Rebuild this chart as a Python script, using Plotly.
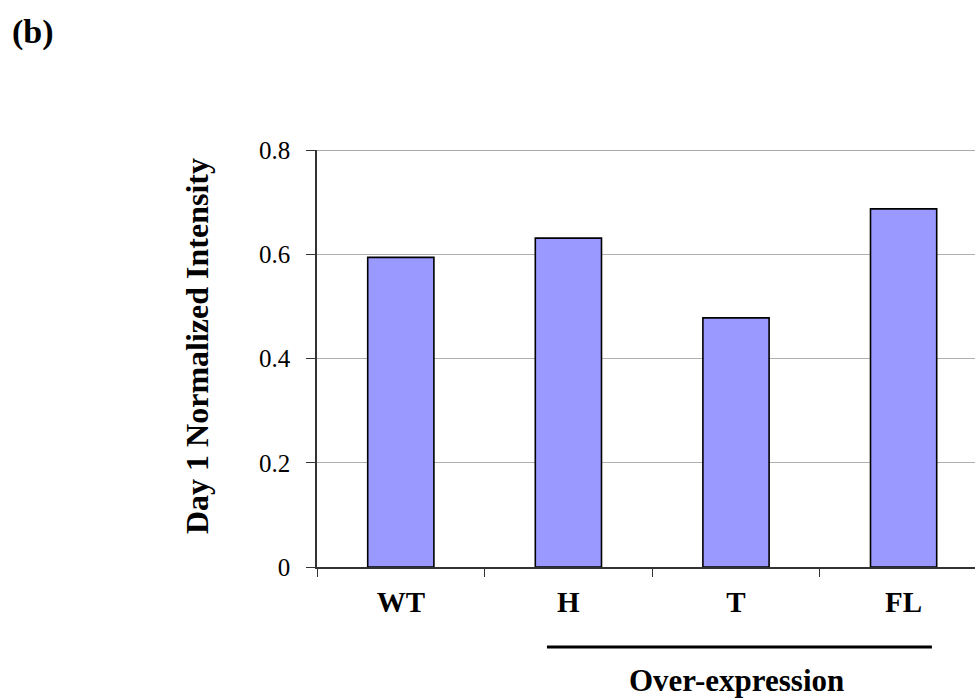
import plotly.graph_objects as go

categories = ["WT", "H", "T", "FL"]
values = [0.594, 0.631, 0.478, 0.687]
y_tick_vals = [0, 0.2, 0.4, 0.6, 0.8]
y_tick_text = ["0", "0.2", "0.4", "0.6", "0.8"]

SERIF = "Liberation Serif, Times New Roman, serif"

fig = go.Figure()
fig.add_trace(go.Bar(
    x=categories, y=values, width=0.395,
    marker=dict(color="#9999FF", line=dict(color="#000000", width=1.6)),
))

fig.update_layout(
    width=975, height=698,
    margin=dict(l=317, r=0, t=150, b=131),
    paper_bgcolor="white", plot_bgcolor="white",
    showlegend=False,
    font=dict(family=SERIF, color="black"),
    xaxis=dict(
        type="category", range=[-0.5, 3.426],
        showline=True, linecolor="#333333", linewidth=1.5,
        ticks="outside", tickson="boundaries", ticklen=8, tickwidth=1.3, tickcolor="#333333",
        tickfont=dict(family=SERIF, size=29, color="black"),
        ticklabelstandoff=8,
        showgrid=False, zeroline=False,
    ),
    yaxis=dict(
        range=[0, 0.8],
        tickvals=y_tick_vals, ticktext=y_tick_text,
        showline=True, linecolor="#333333", linewidth=1.5,
        ticks="outside", ticklen=9, tickwidth=1.3, tickcolor="#333333",
        tickfont=dict(family=SERIF, size=25, color="black"),
        ticklabelstandoff=11,
        showgrid=True, gridcolor="#b0b0b0", gridwidth=1.2,
        zeroline=False,
    ),
)

# y-axis title
fig.add_annotation(xref="paper", yref="paper", x=(197 - 317) / 658, y=(567 - 346) / 417,
                   text="<b>Day 1 Normalized Intensity</b>", textangle=-90, showarrow=False,
                   xanchor="center", yanchor="middle",
                   font=dict(family=SERIF, size=32, color="black"))

# top border line
fig.add_shape(type="line", xref="paper", yref="y", x0=0, x1=1, y0=0.8, y1=0.8,
              line=dict(color="#8c8c8c", width=1.5))

# bold tick labels
fig.update_xaxes(ticktext=[f"<b>{c}</b>" for c in categories], tickvals=categories)

# Over-expression bracket
fig.add_shape(type="line", xref="x", yref="paper", x0=0.872, x1=3.169, y0=-0.192, y1=-0.192,
              line=dict(color="black", width=3))
fig.add_annotation(xref="x", yref="paper", x=2.0, y=(567 - 680) / 417, text="<b>Over-expression</b>",
                   showarrow=False, yanchor="middle",
                   font=dict(family=SERIF, size=31, color="black"))

# panel label
fig.add_annotation(xref="paper", yref="paper", x=(10 - 317) / 658, y=1 + (150 - 32) / 417,
                   xanchor="left", yanchor="middle", text="<b>(b)</b>", showarrow=False,
                   font=dict(family=SERIF, size=34, color="black"))

fig.write_html("out.html")
